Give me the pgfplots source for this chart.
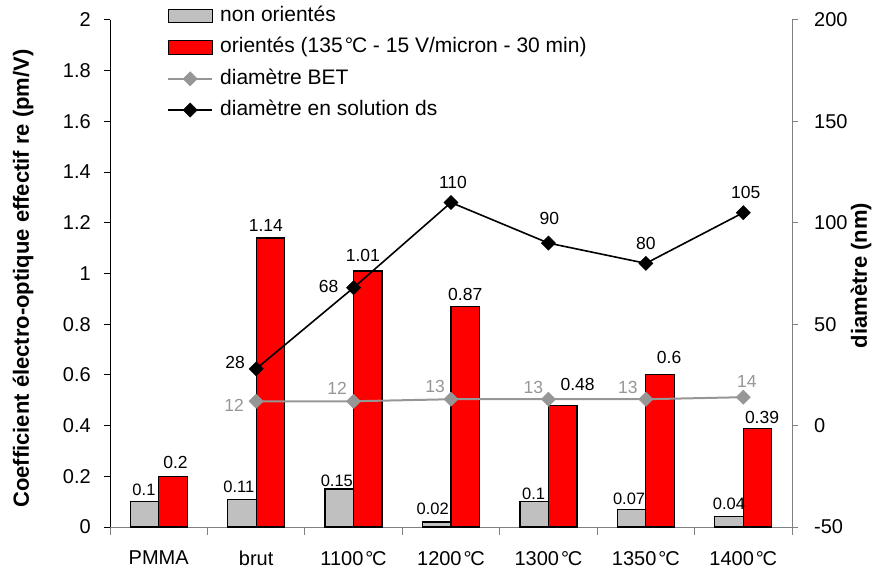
\documentclass[border=0pt]{standalone}
\usepackage{fontspec}
\setmainfont{Liberation Sans}
\usepackage{pgfplots}
\pgfplotsset{compat=1.18}
\usepackage{pgfplotstable}

\definecolor{barGray}{HTML}{C0C0C0}
\definecolor{barRed}{HTML}{FF0000}
\definecolor{betGray}{HTML}{969696}
\definecolor{axGray}{HTML}{808080}

\newcommand{\dC}{\kern0.1em°\kern-0.06em C}

\pgfplotstableread{
x gray gdx gdy red rdx rdy
0 0.1 -0.5 11.9 0.2 2.5 14.3
1 0.11 -3 11.9 1.14 -4.5 12.3
2 0.15 -2.5 7.9 1.01 -5 15.3
3 0.02 -4 12.9 0.87 0 12.3
4 0.1 -0.5 8.2 0.48 15 21.3
5 0.07 -2.5 10.9 0.6 9 17.3
6 0.04 0 12.9 0.39 4.5 10.3
}\bars

\pgfplotstableread{
x bet bdx bdy ds ddx ddy
1 12 -22 -4 28 -21 6
2 12 -16.5 12.7 68 -25 1
3 13 -16 12.7 110 2 20
4 13 -15 11.7 90 1 24.7
5 13 -18 11.7 80 0 20
6 14 3.5 15.5 105 2.5 19.7
}\lines

\pgfplotsset{
  barlegend/.style={legend image code/.code={\draw[##1] (0bp,-6.7bp) rectangle (44bp,6.7bp);}},
  linelegend/.style={legend image code/.code={\draw[mark repeat=2,mark phase=2,##1] plot coordinates {(0bp,0bp) (22bp,0bp) (44bp,0bp)};}},
}

\begin{document}
\begin{tikzpicture}
\useasboundingbox (0,0) rectangle (873bp,575bp);
\begin{axis}[
  at={(110bp,48bp)}, anchor=south west,
  width=682bp, height=507bp, scale only axis,
  xmin=-0.5, xmax=6.5, ymin=0, ymax=2,
  clip=false,
  axis x line*=bottom, axis y line*=left,
  x axis line style={draw=axGray, line width=1bp},
  y axis line style={draw=black, line width=1bp},
  tick align=outside,
  xtick={0,1,2,3,4,5,6},
  xticklabels={PMMA, brut, 1100\dC, 1200\dC, 1300\dC, 1350\dC, 1400\dC},
  major x tick style={draw=none},
  minor xtick={-0.5,0.5,1.5,2.5,3.5,4.5,5.5,6.5},
  minor x tick style={draw=axGray, line width=1bp},
  minor tick length=8bp,
  major tick length=6bp,
  ytick={0,0.2,0.4,0.6,0.8,1,1.2,1.4,1.6,1.8,2},
  ytick style={draw=black, line width=1bp},
  /pgf/number format/assume math mode=true,
  yticklabel style={font=\fontsize{20bp}{24bp}\selectfont, anchor=east, inner sep=0pt, xshift=-13bp},
  xticklabel style={font=\fontsize{20bp}{24bp}\selectfont, anchor=north, inner sep=0pt, yshift=-18bp},
  ylabel={Coefficient électro-optique effectif re (pm/V)},
  ylabel style={font=\bfseries\fontsize{22bp}{26bp}\selectfont, at={(axis description cs:-0.1276,0.49)}, anchor=center},
  ybar=0pt, bar width=28.5bp,
]
\addplot[ybar, fill=barGray, draw=black, line width=1.2bp,
  nodes near coords, point meta=explicit symbolic,
  visualization depends on={\thisrow{gdx} \as \ldx},
  visualization depends on={\thisrow{gdy} \as \ldy},
  every node near coord/.append style={font=\fontsize{16.5bp}{18bp}\selectfont, text=black, anchor=center, inner sep=0pt, xshift=\ldx bp, yshift=\ldy bp}]
  table[x=x, y=gray, meta=gray]{\bars};
\addplot[ybar, fill=barRed, draw=black, line width=1.2bp,
  nodes near coords, point meta=explicit symbolic,
  visualization depends on={\thisrow{rdx} \as \ldx},
  visualization depends on={\thisrow{rdy} \as \ldy},
  every node near coord/.append style={font=\fontsize{17.5bp}{19bp}\selectfont, text=black, anchor=center, inner sep=0pt, xshift=\ldx bp, yshift=\ldy bp}]
  table[x=x, y=red, meta=red]{\bars};
\end{axis}
\begin{axis}[
  at={(110bp,48bp)}, anchor=south west,
  width=682bp, height=507bp, scale only axis,
  xmin=-0.5, xmax=6.5, ymin=-50, ymax=200,
  clip=false,
  axis y line*=right, axis x line=none,
  y axis line style={draw=axGray, line width=1bp},
  tick align=outside,
  major tick length=6bp,
  ytick={-50,0,50,100,150,200},
  ytick style={draw=axGray, line width=1bp},
  /pgf/number format/assume math mode=true,
  yticklabel style={font=\fontsize{20bp}{24bp}\selectfont, anchor=west, inner sep=0pt, xshift=16bp},
  ylabel={diamètre (nm)},
  ylabel style={font=\bfseries\fontsize{22bp}{26bp}\selectfont, at={(axis description cs:1.1012,0.496)}, anchor=center},
  legend style={at={(axis description cs:0.0836,1.0281)}, anchor=north west, draw=none, fill=none,
    inner sep=0pt, column sep=7bp, row sep=10.8bp,
    font=\fontsize{21bp}{25bp}\selectfont,
    nodes={inner sep=0pt, text height=15.5bp, text depth=5bp}},
  legend cell align=left,
]
\addlegendimage{barlegend, fill=barGray, draw=black, line width=1.2bp}
\addlegendentry{non orientés}
\addlegendimage{barlegend, fill=barRed, draw=black, line width=1.2bp}
\addlegendentry{orientés (135\dC\ - 15 V/micron - 30 min)}
\addplot[betGray, line width=2bp, mark=square*, mark size=5bp,
  mark options={rotate=45, fill=betGray, draw=betGray, line width=0.5bp, solid},
  linelegend,
  nodes near coords, point meta=explicit symbolic,
  visualization depends on={\thisrow{bdx} \as \ldx},
  visualization depends on={\thisrow{bdy} \as \ldy},
  every node near coord/.append style={font=\fontsize{17.5bp}{19bp}\selectfont, text=betGray, anchor=center, inner sep=0pt, xshift=\ldx bp, yshift=\ldy bp}]
  table[x=x, y=bet, meta=bet]{\lines};
\addlegendentry{diamètre BET}
\addplot[black, line width=1.6bp, mark=square*, mark size=5bp,
  mark options={rotate=45, fill=black, draw=black, line width=0.5bp, solid},
  linelegend,
  nodes near coords, point meta=explicit symbolic,
  visualization depends on={\thisrow{ddx} \as \ldx},
  visualization depends on={\thisrow{ddy} \as \ldy},
  every node near coord/.append style={font=\fontsize{17.5bp}{19bp}\selectfont, text=black, anchor=center, inner sep=0pt, xshift=\ldx bp, yshift=\ldy bp}]
  table[x=x, y=ds, meta=ds]{\lines};
\addlegendentry{diamètre en solution ds}
\end{axis}
\end{tikzpicture}
\end{document}
